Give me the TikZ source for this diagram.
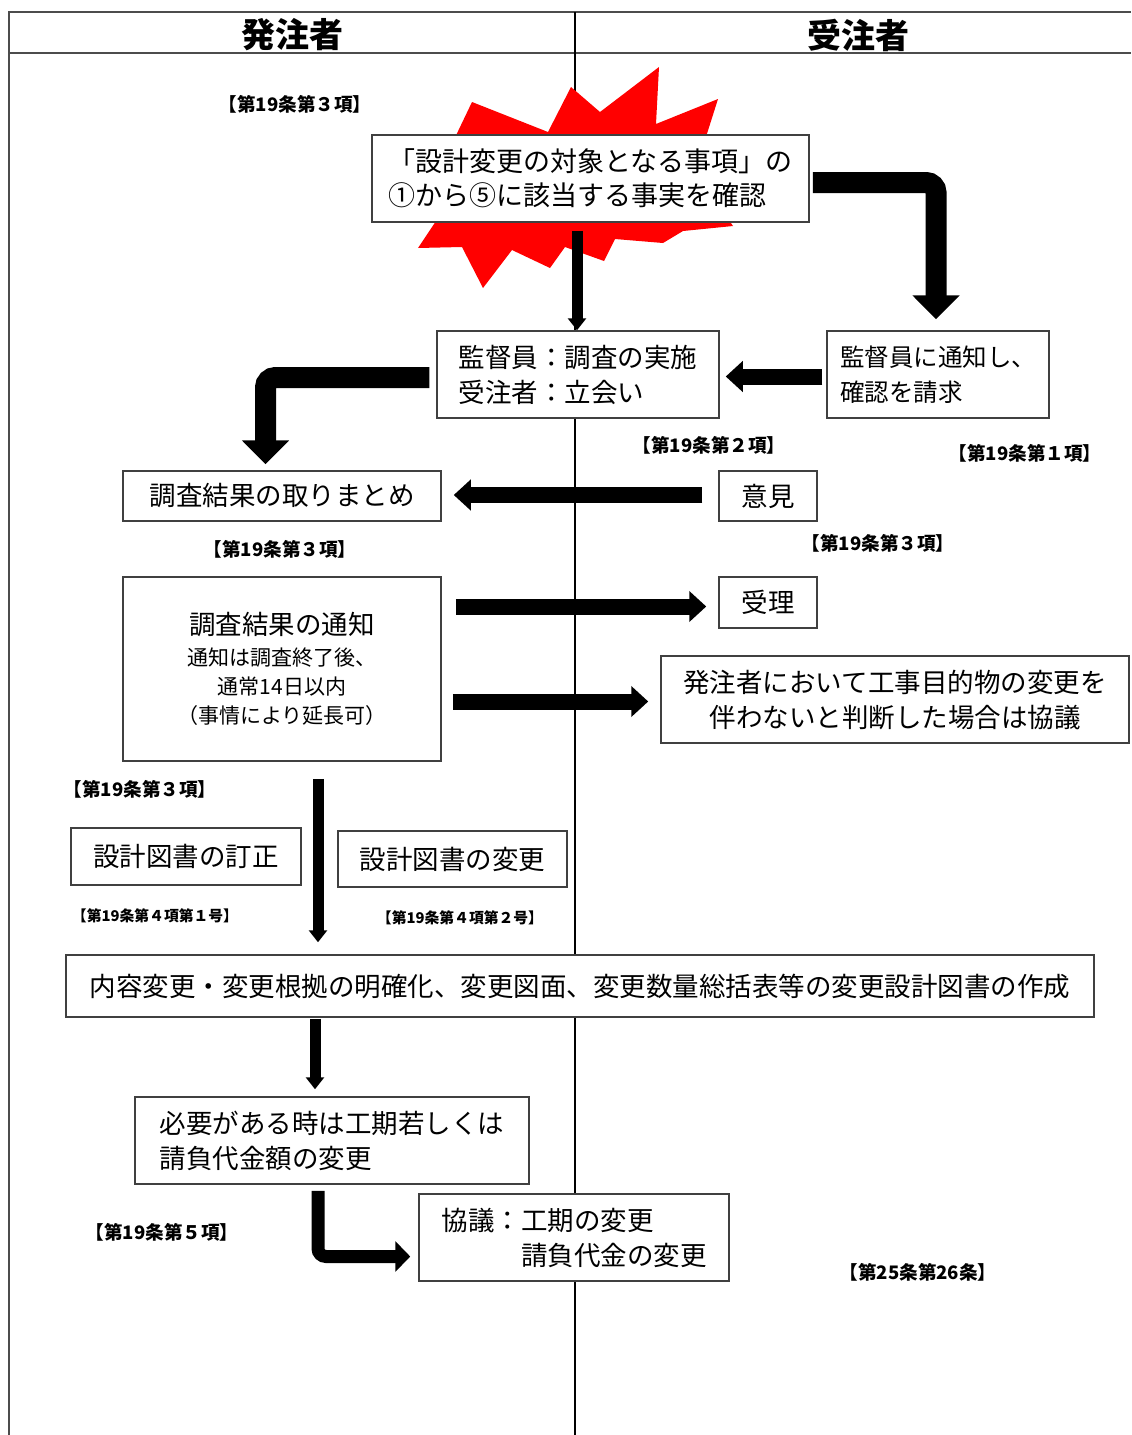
\documentclass[tikz,border=0pt]{standalone}
\usepackage{fontspec}
\setmainfont{Noto Sans CJK JP}
\usetikzlibrary{arrows.meta,calc}
\begin{document}
\begin{tikzpicture}[x=0.5pt,y=-0.5pt,
  box/.style={draw=black!75,line width=0.75pt,fill=white,inner sep=0pt,
    font=\fontsize{13.25pt}{17.5pt}\selectfont},
  lbl/.style={inner sep=0pt,font=\bfseries\fontsize{9.3pt}{10pt}\selectfont},
  slbl/.style={inner sep=0pt,font=\bfseries\fontsize{7.4pt}{9pt}\selectfont},
  hdr/.style={inner sep=0pt,font=\bfseries\fontsize{17pt}{19pt}\selectfont},
  bigarrow/.style={line width=8pt,-{Triangle[width=15pt,length=8.5pt]}},
  bentarrow/.style={line width=10.5pt,rounded corners=5pt,-{Triangle[width=23pt,length=12pt]}},
  thinarrow/.style={line width=5.5pt,-{Triangle[width=9pt,length=6pt]}},
  midarrow/.style={line width=6.5pt,rounded corners=4pt,-{Triangle[width=15pt,length=7.5pt]}},
]
\useasboundingbox (0,0) rectangle (1131,1435);
% frame
\draw[line width=1pt, black!70] (9,1435) -- (9,12) -- (1131,12);
\draw[line width=1.2pt, black!70] (9,53) -- (1131,53);
\draw[line width=0.8pt] (575,12) -- (575,1435);
\node[hdr] (hA) at (292,35) {発注者};
\node[hdr] (hB) at (858,35) {受注者};
% starburst
\fill[red] (472,102) -- (548,132) -- (571,87) -- (600,112) -- (659,67) -- (656,124)
  -- (718,99) -- (705,140) -- (760,170) -- (715,200) -- (733,226) -- (683,231)
  -- (663,243) -- (615,239) -- (604,261) -- (565,247) -- (550,268) -- (512,250)
  -- (483,288) -- (462,247) -- (418,248) -- (440,215) -- (390,180) -- (450,148) -- cycle;
% boxes
\node[box, minimum width=218.5pt, minimum height=43.5pt, font=\fontsize{13.5pt}{17pt}\selectfont, align=left]
  (b1) at (590.5,178.5) {「設計変更の対象となる事項」の\\①から⑤に該当する事実を確認};
\node[box, minimum width=141pt, minimum height=43.5pt, align=left]
  (b2) at (578,374.5) {監督員：調査の実施\\受注者：立会い};
\node[box, minimum width=111pt, minimum height=43.5pt, align=left, font=\fontsize{12.25pt}{17.5pt}\selectfont]
  (b3) at (938,374.5) {監督員に通知し、\\確認を請求};
\node[box, minimum width=159pt, minimum height=25pt] (b4) at (282,496) {調査結果の取りまとめ};
\node[box, minimum width=49pt, minimum height=25pt] (iken) at (768,496) {意見};
\node[box, minimum width=159pt, minimum height=92pt, align=center, font=\fontsize{10.5pt}{14.5pt}\selectfont]
  (b5) at (282,669) {{\fontsize{13.25pt}{16pt}\selectfont 調査結果の通知}\\[1pt]通知は調査終了後、\\通常14日以内\\（事情により延長可）};
\node[box, minimum width=49pt, minimum height=25.5pt] (juri) at (768,602.5) {受理};
\node[box, minimum width=234pt, minimum height=43.5pt, align=center]
  (b6) at (895,699.5) {発注者において工事目的物の変更を\\伴わないと判断した場合は協議};
\node[box, minimum width=115pt, minimum height=28.5pt] (b7) at (186,856.5) {設計図書の訂正};
\node[box, minimum width=114.5pt, minimum height=28pt] (b8) at (452.5,859) {設計図書の変更};
\node[box, minimum width=514pt, minimum height=31pt] (b9) at (580,986)
  {内容変更・変更根拠の明確化、変更図面、変更数量総括表等の変更設計図書の作成};
\node[box, minimum width=197pt, minimum height=43.5pt, align=left]
  (b10) at (332,1140.5) {必要がある時は工期若しくは\\請負代金額の変更};
\node[box, minimum width=155pt, minimum height=43.5pt, align=left]
  (b11) at (574,1237.5) {協議：工期の変更\\\hspace*{3em}請負代金の変更};
% labels
\node[lbl] (l1) at (295,104) {【第19条第３項】};
\node[lbl] (l2) at (709,445) {【第19条第２項】};
\node[lbl] (l3) at (1025,453) {【第19条第１項】};
\node[lbl] (l4) at (280,549) {【第19条第３項】};
\node[lbl] (l5) at (878,543) {【第19条第３項】};
\node[lbl] (l6) at (140,789) {【第19条第３項】};
\node[slbl] (l7) at (155,916) {【第19条第４項第１号】};
\node[slbl] (l8) at (460,918) {【第19条第４項第２号】};
\node[lbl] (l9) at (162,1232) {【第19条第５項】};
\node[lbl] (l10) at (918,1272) {【第25条第26条】};
% arrows
\draw[thinarrow] ($(b2.north |- b1.south)+(-1,8)$) -- ($(b2.north)+(-1,0)$);
\draw[bentarrow] ($(b1.east)+(3,4)$) -| ($(b3.north)+(-2,-11)$);
\draw[bigarrow] ($(b3.west)+(-4,2)$) -- ($(b2.east)+(6,2)$);
\draw[bentarrow] ($(b2.west)+(-7,3)$) -| ($(b4.north)+(-16.5,-6)$);
\draw[bigarrow] ($(iken.west)+(-16,-1)$) -- ($(b4.east)+(12,-1)$);
\draw[bigarrow] ($(b5.east)+(14,-62.5)$) -- ($(juri.west)+(-12,4)$);
\draw[bigarrow] ($(b5.east)+(11,32.5)$) -- ($(b6.west)+(-12,2)$);
\draw[thinarrow] ($(b5.south)+(36,17)$) -- ($(b5.south |- b9.north)+(36,-12)$);
\draw[thinarrow] ($(b10.north |- b9.south)+(-17,1)$) -- ($(b10.north)+(-17,-7)$);
\draw[midarrow] ($(b10.south)+(-14,6)$) |- ($(b11.west)+(-8,19)$);
\end{tikzpicture}
\end{document}
